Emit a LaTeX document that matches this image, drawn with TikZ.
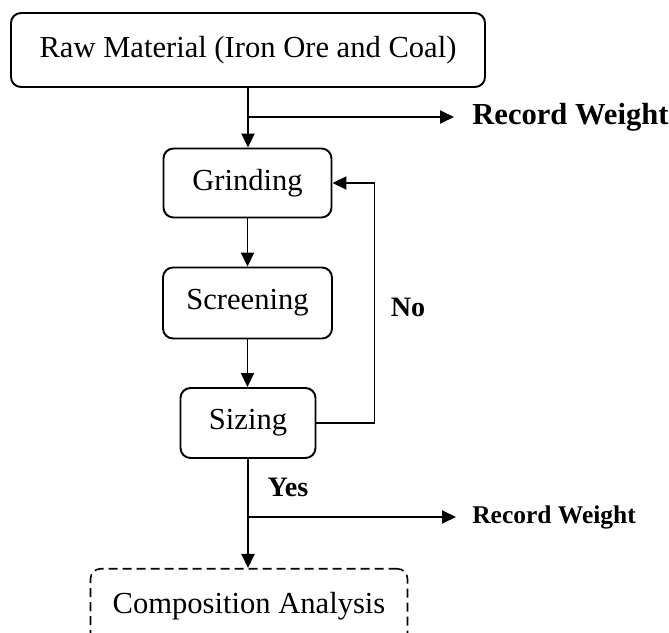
\documentclass[tikz,border=0pt]{standalone}
\usepackage{fontspec}
\setmainfont{Liberation Serif}
\usepackage{tikz}
\usetikzlibrary{arrows.meta,positioning,calc}

\tikzset{
  stage/.style={draw,line width=1.1pt,rounded corners=0.2cm,align=center,
    font=\fontsize{17.4}{20}\selectfont},
  flow/.style={line width=1.1pt,-{Triangle[length=0.28cm,width=0.26cm]}},
  tag/.style={font=\fontsize{16}{18}\selectfont\bfseries}
}

\begin{document}
\begin{tikzpicture}
  \useasboundingbox (0,0) rectangle (13.38,12.66);
  \clip (0,0) rectangle (13.38,12.66);

  % process chain
  \node[stage,minimum width=9.48cm,minimum height=1.48cm] (raw) at (4.96,11.66) {Raw Material (Iron Ore and Coal)};
  \node[stage,minimum width=3.36cm,minimum height=1.38cm] (grind) at (4.95,9.00) {Grinding};
  \node[stage,minimum width=3.38cm,minimum height=1.42cm] (screen) at (4.95,6.60) {Screening};
  \node[stage,minimum width=2.70cm,minimum height=1.40cm] (size) at (4.96,4.20) {Sizing};
  \node[stage,dashed,dash pattern=on 0.18cm off 0.1cm,line width=0.9pt,anchor=north,
    minimum width=6.34cm,inner ysep=0.1cm,text height=0.80cm,text depth=0.6cm] (comp) at (4.98,1.30) {Composition Analysis};

  % weighing outputs
  \node[font=\fontsize{17.4}{20}\selectfont\bfseries,anchor=west,inner xsep=0.36cm] (rec1) at (9.08,10.32) {Record Weight};
  \node[font=\fontsize{14.5}{16}\selectfont\bfseries,anchor=west,inner xsep=0.32cm] (rec2) at (9.12,2.32) {Record Weight};
  \coordinate (tap1) at (raw.south |- rec1.west);
  \coordinate (tap2) at (size.south |- rec2.west);

  \draw[flow] (raw.south) -- (raw.south |- grind.north);
  \draw[flow] (tap1) -- (rec1.west);
  \draw[flow] (grind.south) -- (grind.south |- screen.north);
  \draw[flow] (screen.south) -- (screen.south |- size.north);
  \draw[flow] (size.south) -- (size.south |- comp.north);
  \draw[flow] (tap2) -- (rec2.west);

  % re-grind loop
  \draw[flow] (size.east) -- ++(1.16,0) |- (grind.east);
  \node[tag] (no) at (8.16,6.52) {No};
  \node[tag] (yes) at (5.76,2.92) {Yes};
\end{tikzpicture}
\end{document}
